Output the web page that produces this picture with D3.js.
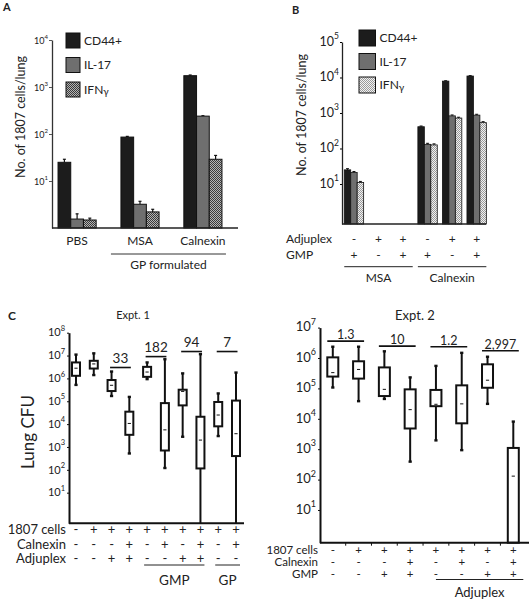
<!DOCTYPE html>
<html><head><meta charset="utf-8">
<script src="https://cdn.jsdelivr.net/npm/d3@7"></script>
<style>
body{margin:0;background:#fff}
svg{display:block}
text{font-family:Lato,"Open Sans",sans-serif;fill:#222}
</style></head>
<body><svg id="chart" width="529" height="599"></svg>
<script>
// ---------------- DATA ----------------
const seriesNames = ["CD44+", "IL-17", "IFN"];
// Panel A
const aGroups = ["PBS", "MSA", "Calnexin"];
const aCD44 = [25, 86, 1740];
const aIL17 = [1.55, 3.2, 240];
const aIFNg = [1.48, 2.2, 29];
const aCD44Err = [29, 89, 1800];
const aIL17Err = [2.0, 3.7, 245];
const aIFNgErr = [1.62, 2.5, 35];
const aTicks = [10, 100, 1000, 10000];
// Panel B
const bAntigen = ["MSA", "MSA", "MSA", "Calnexin", "Calnexin", "Calnexin"];
const bAdjuplex = ["-", "+", "+", "-", "+", "+"];
const bGMP = ["+", "-", "+", "+", "-", "+"];
const bCD44 = [25, null, null, 410, 7900, 11000];
const bIL17 = [21, null, null, 131, 830, 870];
const bIFNg = [11, null, null, 126, 720, 535];
const bCD44Err = [27, null, null, 430, 8100, 11300];
const bIL17Err = [22.5, null, null, 140, 880, 920];
const bIFNgErr = [11.8, null, null, 135, 760, 570];
const bTicks = [10, 100, 1000, 10000, 100000];
// Panel C, Expt. 1
const c1Cells    = ["-", "+", "+", "+", "+", "+", "+", "+", "+", "+"];
const c1Calnexin = ["-", "-", "-", "+", "-", "+", "-", "+", "-", "+"];
const c1Adjuplex = ["-", "-", "+", "+", "-", "-", "+", "+", "-", "-"];
const c1Min = [5.2e5, 1.4e6, 1.7e5, 5.2e2, 9.3e5, 1.2e2, 2.8e3, 0.3, 3.0e3, 0.3];
const c1Q1  = [1.3e6, 2.7e6, 2.8e5, 3.4e3, 1.17e6, 7.0e2, 6.6e4, 1.15e2, 8.0e3, 4.0e2];
const c1Med = [2.8e6, 4.3e6, 5.0e5, 1.07e4, 1.9e6, 5.6e3, 2.7e5, 2.0e3, 2.5e4, 3.8e3];
const c1Q3  = [5.0e6, 5.9e6, 8.5e5, 3.5e4, 3.2e6, 8.3e4, 3.2e5, 2.1e4, 9.3e4, 1.07e5];
const c1Max = [1.1e7, 1.25e7, 2.0e6, 1.55e5, 5.0e6, 6.9e6, 1.66e6, 1.15e7, 2.2e5, 1.8e6];
const c1FoldLabels = ["33", "182", "94", "7"];
const c1FoldFrom = [2, 4, 6, 8];
const c1FoldLevel = [3e6, 9e6, 1.5e7, 1.5e7];
const c1Ticks = [10, 1e2, 1e3, 1e4, 1e5, 1e6, 1e7, 1e8];
const c1Brackets = [{label: "GMP", from: 4, to: 7}, {label: "GP", from: 8, to: 9}];
// Panel C, Expt. 2
const c2Cells    = ["-", "+", "+", "+", "+", "+", "+", "+"];
const c2Calnexin = ["-", "-", "-", "+", "-", "+", "-", "+"];
const c2GMP      = ["-", "-", "+", "+", "-", "-", "+", "+"];
const c2Min = [1.07e5, 3.8e4, 4.5e4, 3.9e2, 1.95e3, 9.3e2, 3.1e4, 0.5];
const c2Q1  = [2.45e5, 2.1e5, 5.6e4, 4.8e3, 2.6e4, 7.1e3, 1.05e5, 0.5];
const c2Med = [3.3e5, 4.2e5, 9.3e4, 2.0e4, 3.0e4, 3.1e4, 1.86e5, 1.3e2];
const c2Q3  = [1.05e6, 7.8e5, 4.9e5, 9.3e4, 8.9e4, 1.26e5, 6.2e5, 1.1e3];
const c2Max = [2.35e6, 2.35e6, 1.66e6, 2.3e5, 5.5e5, 1.48e6, 1.1e6, 8.1e3];
const c2FoldLabels = ["1.3", "10", "1.2", "2,997"];
const c2FoldFrom = [0, 2, 4, 6];
const c2FoldLevel = [3.6e6, 2.45e6, 2.35e6, 1.74e6];
const c2Ticks = [10, 1e2, 1e3, 1e4, 1e5, 1e6, 1e7];

// ---------------- DRAW ----------------
const svg = d3.select("#chart");
const defs = svg.append("defs");
function checker(id, a, b) {
  const p = defs.append("pattern").attr("id", id).attr("width", 2).attr("height", 2)
    .attr("patternUnits", "userSpaceOnUse");
  p.append("rect").attr("width", 2).attr("height", 2).attr("fill", a);
  p.append("rect").attr("width", 1).attr("height", 1).attr("fill", b);
  p.append("rect").attr("x", 1).attr("y", 1).attr("width", 1).attr("height", 1).attr("fill", b);
}
checker("patA", "#b4b4b4", "#3a3a3a");
checker("patB", "#f2f2f2", "#9a9a9a");

function supTicks(g, fs, sfs) {
  g.selectAll(".tick text").each(function(d) {
    const t = d3.select(this);
    const e = Math.round(Math.log10(d));
    t.text(null).attr("fill", "#222");
    t.append("tspan").text("10").attr("font-size", fs);
    t.append("tspan").text(e).attr("font-size", sfs).attr("dy", -fs * 0.5);
  });
}

function label(x, y, txt, fs, anchor, weight) {
  return svg.append("text").attr("x", x).attr("y", y).attr("font-size", fs)
    .attr("text-anchor", anchor || "middle").attr("font-weight", weight || "normal").text(txt);
}

function legend(x, y0, step, w, h, fills) {
  seriesNames.forEach((s, i) => {
    svg.append("rect").attr("x", x).attr("y", y0 + i * step).attr("width", w).attr("height", h)
      .attr("fill", fills[i]).attr("stroke", "#111").attr("stroke-width", 1);
    const t = svg.append("text").attr("x", x + w + 4).attr("y", y0 + i * step + h / 2 + 4.3)
      .attr("font-size", 12).text(s);
    if (i === 2) t.append("tspan").text("γ").attr("font-size", 10).attr("dy", 1.5);
  });
}

// ===== Panel A =====
label(3, 11, "A", 11, "start", "bold");
{
  const y = d3.scaleLog().domain([1, 1e4]).range([228, 40]);
  const x0 = d3.scaleBand().domain(aGroups).range([52, 228]).paddingInner(0.394).paddingOuter(0.096);
  const x1 = d3.scaleBand().domain(seriesNames).range([0, x0.bandwidth()]);
  const vals = [aCD44, aIL17, aIFNg], errs = [aCD44Err, aIL17Err, aIFNgErr];
  const fills = ["#1c1c1c", "#6f6f6f", "url(#patA)"];
  seriesNames.forEach((s, i) => {
    aGroups.forEach((g, j) => {
      const xx = x0(g) + x1(s);
      const cx = xx + x1.bandwidth() / 2;
      svg.append("line").attr("x1", cx).attr("x2", cx).attr("y1", y(vals[i][j])).attr("y2", y(errs[i][j]))
        .attr("stroke", "#111").attr("stroke-width", 1.2);
      svg.append("line").attr("x1", cx - 1.5).attr("x2", cx + 1.5).attr("y1", y(errs[i][j])).attr("y2", y(errs[i][j]))
        .attr("stroke", "#111").attr("stroke-width", 1.2);
      svg.append("rect").attr("x", xx).attr("y", y(vals[i][j])).attr("width", x1.bandwidth())
        .attr("height", y.range()[0] - y(vals[i][j])).attr("fill", fills[i])
        .attr("stroke", "#111").attr("stroke-width", 1);
    });
  });
  const ax = svg.append("g").attr("transform", "translate(52,0)")
    .call(d3.axisLeft(y).tickValues(aTicks).tickSize(3).tickSizeOuter(0).tickPadding(1));
  ax.select(".domain").attr("stroke", "#333").attr("stroke-width", 1.3);
  ax.selectAll(".tick line").attr("stroke", "#555");
  supTicks(ax, 9, 6);
  svg.append("line").attr("x1", 52).attr("x2", 238).attr("y1", 228).attr("y2", 228)
    .attr("stroke", "#222").attr("stroke-width", 1.3);
  svg.append("text").attr("transform", "translate(20,117) rotate(-90)").attr("text-anchor", "middle")
    .attr("dominant-baseline", "central").attr("font-size", 12.5).text("No. of 1807 cells/lung");
  legend(66, 33, 24.5, 14, 15, fills);
  aGroups.forEach(g => label(x0(g) + x0.bandwidth() / 2, 245, g, 12));
  svg.append("line").attr("x1", x0("MSA") - 10).attr("x2", x0("Calnexin") + x0.bandwidth() + 4)
    .attr("y1", 254).attr("y2", 254).attr("stroke", "#333").attr("stroke-width", 1);
  label((x0("MSA") + x0("Calnexin") + x0.bandwidth()) / 2 - 3, 269, "GP formulated", 12);
}

// ===== Panel B =====
label(292, 14, "B", 11, "start", "bold");
{
  const y = d3.scaleLog().domain([0.746, 1e5]).range([224, 42]);
  const conds = d3.range(bAntigen.length);
  const x0 = d3.scaleBand().domain(conds).range([341.8, 488.8]).paddingInner(0.21).paddingOuter(0.1);
  const x1 = d3.scaleBand().domain(seriesNames).range([0, x0.bandwidth()]);
  const vals = [bCD44, bIL17, bIFNg], errs = [bCD44Err, bIL17Err, bIFNgErr];
  const fills = ["#1c1c1c", "#6f6f6f", "url(#patB)"];
  seriesNames.forEach((s, i) => {
    conds.forEach(j => {
      const v = vals[i][j];
      if (v == null) return;
      const xx = x0(j) + x1(s), cx = xx + x1.bandwidth() / 2;
      svg.append("line").attr("x1", cx).attr("x2", cx).attr("y1", y(v)).attr("y2", y(errs[i][j]))
        .attr("stroke", "#111").attr("stroke-width", 1);
      svg.append("line").attr("x1", cx - 1.5).attr("x2", cx + 1.5).attr("y1", y(errs[i][j])).attr("y2", y(errs[i][j]))
        .attr("stroke", "#111").attr("stroke-width", 1);
      svg.append("rect").attr("x", xx).attr("y", y(v)).attr("width", x1.bandwidth())
        .attr("height", y.range()[0] - y(v)).attr("fill", fills[i]).attr("stroke", "#111").attr("stroke-width", 0.8);
    });
  });
  const ax = svg.append("g").attr("transform", "translate(342,0)")
    .call(d3.axisLeft(y).tickValues(bTicks).tickSize(2).tickSizeOuter(0).tickPadding(1));
  ax.select(".domain").attr("stroke", "#222").attr("stroke-width", 1.3);
  supTicks(ax, 12.5, 8.5);
  svg.append("line").attr("x1", 342).attr("x2", 486).attr("y1", 224).attr("y2", 224)
    .attr("stroke", "#222").attr("stroke-width", 1.3);
  svg.append("text").attr("transform", "translate(301,115) rotate(-90)").attr("text-anchor", "middle")
    .attr("dominant-baseline", "central").attr("font-size", 12.5).text("No. of 1807 cells/lung");
  legend(359, 30, 23.5, 16.5, 16, fills);
  label(286, 243, "Adjuplex", 12, "start");
  label(286, 259, "GMP", 12, "start");
  conds.forEach(j => {
    const cx = x0(j) + x0.bandwidth() / 2;
    label(cx, 243, bAdjuplex[j], 12);
    label(cx, 259, bGMP[j], 12);
  });
  ["MSA", "Calnexin"].forEach(a => {
    const idx = conds.filter(j => bAntigen[j] === a);
    const xa = x0(idx[0]), xb = x0(idx[idx.length - 1]) + x0.bandwidth();
    svg.append("line").attr("x1", xa).attr("x2", xb).attr("y1", 266.7).attr("y2", 266.7)
      .attr("stroke", "#222").attr("stroke-width", 1);
    label((xa + xb) / 2, 282, a, 12);
  });
}

// ===== Panel C =====
label(8, 320, "C", 12, "start", "bold");
function boxPanel(o) {
  const y = d3.scaleLog().domain(o.ydom).range(o.yrange).clamp(true);
  const n = o.med.length;
  const x = d3.scalePoint().domain(d3.range(n)).range(o.xrange);
  const base = o.yrange[0];
  for (let i = 0; i < n; i++) {
    const cx = x(i), hw = o.bw / 2;
    svg.append("line").attr("x1", cx).attr("x2", cx).attr("y1", y(o.max[i])).attr("y2", y(o.q3[i]))
      .attr("stroke", "#111").attr("stroke-width", 2);
    svg.append("line").attr("x1", cx).attr("x2", cx).attr("y1", y(o.q1[i])).attr("y2", y(o.min[i]))
      .attr("stroke", "#111").attr("stroke-width", 2);
    [o.max[i], o.min[i]].forEach(v => {
      if (y(v) < base - 1) svg.append("rect").attr("x", cx - 1.6).attr("y", y(v) - 1.2).attr("width", 3.2).attr("height", 2.4).attr("fill", "#111");
    });
    svg.append("rect").attr("x", cx - hw).attr("y", y(o.q3[i])).attr("width", o.bw)
      .attr("height", y(o.q1[i]) - y(o.q3[i])).attr("fill", "#fff").attr("stroke", "#111").attr("stroke-width", 2);
    svg.append("line").attr("x1", cx - 1.6).attr("x2", cx + 1.6).attr("y1", y(o.med[i])).attr("y2", y(o.med[i]))
      .attr("stroke", "#111").attr("stroke-width", 1);
  }
  const ax = svg.append("g").attr("transform", `translate(${o.axisX},0)`)
    .call(d3.axisLeft(y).tickValues(o.ticks).tickSize(2).tickSizeOuter(0).tickPadding(2));
  ax.select(".domain").attr("stroke", "#111").attr("stroke-width", 2);
  ax.selectAll(".tick line").attr("stroke", "#111");
  supTicks(ax, o.tfs, o.tsfs);
  svg.append("line").attr("x1", o.axisX).attr("x2", o.axisEnd).attr("y1", base).attr("y2", base)
    .attr("stroke", "#111").attr("stroke-width", 2);
  if (o.xticks) {
    for (let i = 0; i < n - 1; i++) {
      const mx = (x(i) + x(i + 1)) / 2;
      svg.append("line").attr("x1", mx).attr("x2", mx).attr("y1", base).attr("y2", base + 3).attr("stroke", "#111").attr("stroke-width", 1);
    }
  }
  o.foldLabels.forEach((lab, k) => {
    const i = o.foldFrom[k];
    const ly = y(o.foldLevel[k]);
    const xa = x(i) - o.foldPad, xb = x(i + 1) + o.foldPad;
    svg.append("line").attr("x1", xa).attr("x2", xb).attr("y1", ly).attr("y2", ly).attr("stroke", "#111").attr("stroke-width", 1.6);
    label((xa + xb) / 2, ly - o.foldGap, lab, o.foldFs);
  });
  o.rows.forEach((r, k) => {
    label(o.rowLabelX, o.rowY[k], r.name, o.rowFs, "end");
    r.signs.forEach((s, i) => label(x(i), o.rowY[k], s, o.rowFs));
  });
  return x;
}

const x1c = boxPanel({
  ydom: [0.457, 1e8], yrange: [523.3, 332.7], xrange: [76, 236], bw: 8, axisX: 69, axisEnd: 244,
  min: c1Min, q1: c1Q1, med: c1Med, q3: c1Q3, max: c1Max, ticks: c1Ticks, tfs: 11, tsfs: 7.5,
  foldLabels: c1FoldLabels, foldFrom: c1FoldFrom, foldLevel: c1FoldLevel, foldPad: 1.5, foldGap: 4.5, foldFs: 13.5,
  rows: [{name: "1807 cells", signs: c1Cells}, {name: "Calnexin", signs: c1Calnexin}, {name: "Adjuplex", signs: c1Adjuplex}],
  rowY: [534, 548.5, 563], rowLabelX: 66, rowFs: 13, xticks: false
});
label(133, 319, "Expt. 1", 11);
svg.append("text").attr("transform", "translate(27,432) rotate(-90)").attr("text-anchor", "middle")
  .attr("dominant-baseline", "central").attr("font-size", 17).text("Lung CFU");
c1Brackets.forEach(b => {
  const xa = x1c(b.from) - 3, xb = x1c(b.to) + 4;
  svg.append("line").attr("x1", xa).attr("x2", xb).attr("y1", 565).attr("y2", 565).attr("stroke", "#222").attr("stroke-width", 1);
  label((xa + xb) / 2, 585, b.label, 13.5);
});

const x2c = boxPanel({
  ydom: [0.84, 1e7], yrange: [542.7, 327.6], xrange: [332.8, 513.3], bw: 11, axisX: 320, axisEnd: 529,
  min: c2Min, q1: c2Q1, med: c2Med, q3: c2Q3, max: c2Max, ticks: c2Ticks, tfs: 13, tsfs: 9,
  foldLabels: c2FoldLabels, foldFrom: c2FoldFrom, foldLevel: c2FoldLevel, foldPad: 5.5, foldGap: 2, foldFs: 12.5,
  rows: [{name: "1807 cells", signs: c2Cells}, {name: "Calnexin", signs: c2Calnexin}, {name: "GMP", signs: c2GMP}],
  rowY: [553.5, 565.5, 577.5], rowLabelX: 318, rowFs: 11.5, xticks: true
});
label(415, 320, "Expt. 2", 13);
{
  const xa = x2c(4) - 0, xb = x2c(7) + 10;
  svg.append("line").attr("x1", xa).attr("x2", xb).attr("y1", 579.5).attr("y2", 579.5).attr("stroke", "#222").attr("stroke-width", 1);
  label((xa + xb) / 2, 597, "Adjuplex", 13);
}
</script></body></html>
